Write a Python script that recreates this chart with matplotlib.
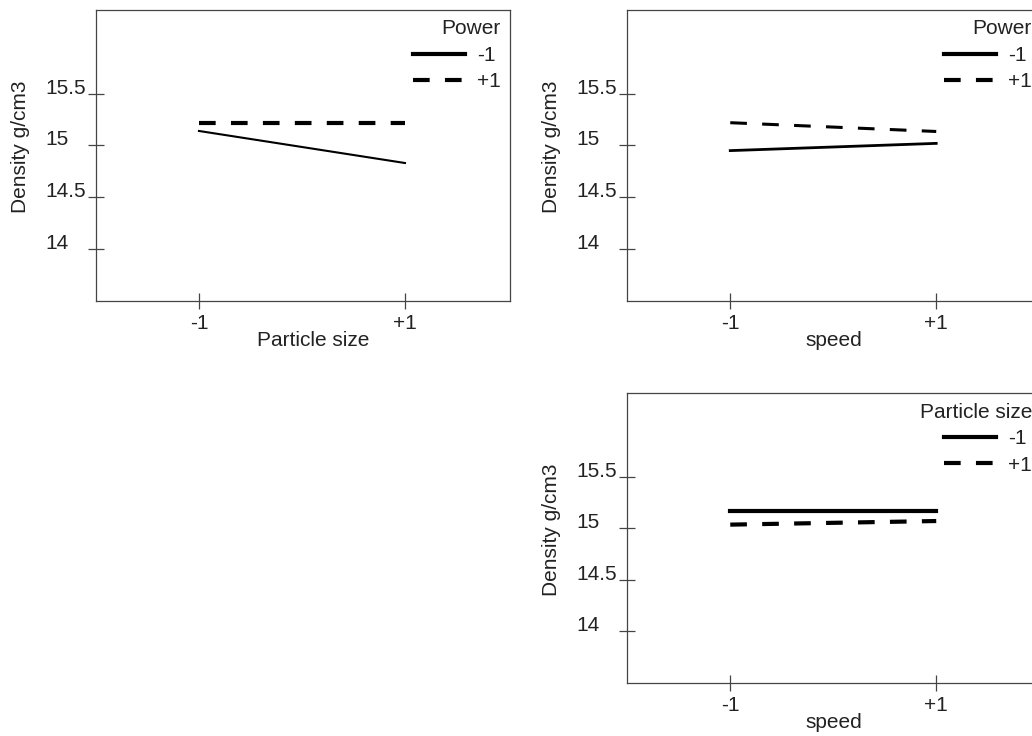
import matplotlib
matplotlib.use("Agg")
import matplotlib.pyplot as plt

plt.rcParams['font.family'] = ['Liberation Sans', 'DejaVu Sans']
plt.rcParams['lines.scale_dashes'] = False

levels = [-1, 1]
level_labels = ["-1", "+1"]
yticks = [14, 14.5, 15, 15.5]
ytick_labels = ["14", "14.5", "15", "15.5"]

# particle size x power
ps_power_m1 = [15.14, 14.83]
ps_power_p1 = [15.22, 15.22]
# speed x power
sp_power_m1 = [14.95, 15.02]
sp_power_p1 = [15.22, 15.135]
# speed x particle size
sp_ps_m1 = [15.17, 15.17]
sp_ps_p1 = [15.035, 15.07]

FS = 15
DASH = (0, (12, 11))
GRAY = "#444444"


def panel(ax, xlabel, legend_title, solid, dashed, lw_solid, lw_dashed, xlabel_x):
    ax.plot(levels, solid, color="black", lw=lw_solid, label="-1")
    ax.plot(levels, dashed, color="black", lw=lw_dashed, linestyle=DASH, label="+1")
    ax.set_xlim(-2, 2.02)
    ax.set_ylim(13.5, 16.31)
    ax.set_xticks(levels, level_labels)
    ax.set_yticks(yticks, ytick_labels)
    ax.tick_params(direction="inout", length=11.5, width=0.9, color=GRAY,
                   labelsize=FS, labelcolor="#222222")
    ax.tick_params(axis="x", pad=4.0)
    ax.tick_params(axis="y", pad=31)
    for lab in ax.get_yticklabels():
        lab.set_horizontalalignment("left")
        lab.set_verticalalignment("baseline")
    for s in ax.spines.values():
        s.set_color(GRAY)
        s.set_linewidth(0.9)
    ax.set_xlabel(xlabel, fontsize=FS, color="#222222")
    ax.xaxis.set_label_coords(xlabel_x, -0.105)
    ax.set_ylabel("Density g/cm3", fontsize=FS, color="#222222")
    ax.yaxis.set_label_coords(-0.159, 0.53)
    leg = ax.legend(title=legend_title, loc="upper right", frameon=False,
                    alignment="right", fontsize=FS, title_fontsize=FS,
                    handlelength=2.5, handletextpad=0.58, borderpad=0.35,
                    borderaxespad=0.1, labelspacing=0.36)
    for ln in leg.get_lines():
        ln.set_linewidth(3)
    for t in leg.get_texts():
        t.set_color("#222222")
    leg.get_title().set_color("#222222")


fig = plt.figure(figsize=(10.32, 7.36), dpi=100)
ax1 = fig.add_axes([0.093, 0.5917, 0.4012, 0.3947])
ax2 = fig.add_axes([0.6078, 0.5917, 0.4012, 0.3947])
ax3 = fig.add_axes([0.6078, 0.0724, 0.4012, 0.3932])

panel(ax1, "Particle size", "Power", ps_power_m1, ps_power_p1, 1.5, 3, 0.524)
panel(ax2, "speed", "Power", sp_power_m1, sp_power_p1, 2, 2.2, 0.498)
panel(ax3, "speed", "Particle size", sp_ps_m1, sp_ps_p1, 3, 3, 0.498)

fig.savefig("out.png", dpi=100, facecolor="white")
